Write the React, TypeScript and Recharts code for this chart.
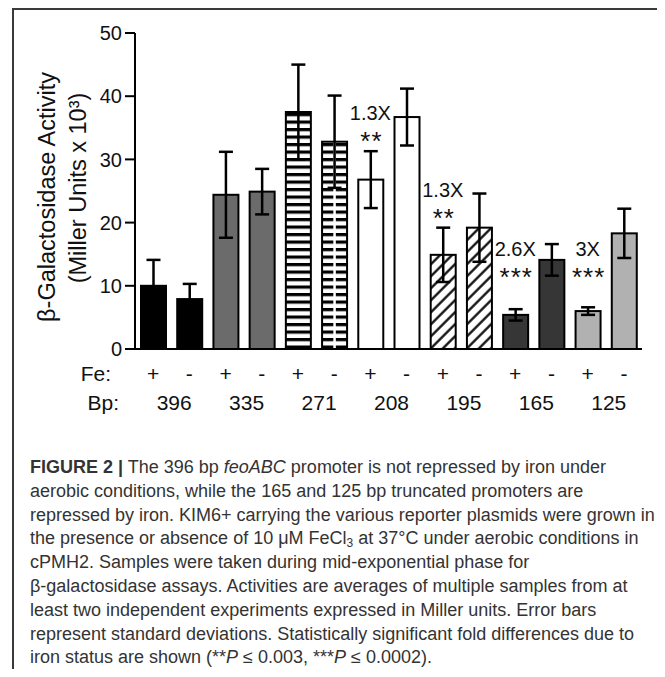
import React from 'react';
import { ComposedChart, Bar, Line, XAxis, YAxis, ErrorBar, LabelList } from 'recharts';

const ids = ['396+', '396-', '335+', '335-', '271+', '271-', '208+', '208-', '195+', '195-', '165+', '165-', '125+', '125-'];
const feSigns = ['+', '-', '+', '-', '+', '-', '+', '-', '+', '-', '+', '-', '+', '-'];
const bpLabels = ['396', '335', '271', '208', '195', '165', '125'];
const activity = [10.0, 7.9, 24.4, 24.9, 37.5, 32.8, 26.8, 36.7, 14.9, 19.2, 5.4, 14.1, 6.0, 18.3];
const activitySd = [4.1, 2.4, 6.8, 3.6, 7.5, 7.3, 4.5, 4.5, 4.3, 5.4, 0.9, 2.5, 0.6, 3.9];
const barStyles = ['black', 'black', 'gray', 'gray', 'stripe', 'brick', 'white', 'white', 'hatch', 'hatch', 'dark', 'dark', 'light', 'light'];
const foldLabels = ['', '', '', '', '', '', '1.3X', '', '1.3X', '', '2.6X', '', '3X', ''];
const starLabels = ['', '', '', '', '', '', '**', '', '**', '', '***', '', '***', ''];
const annotationLevel = [null, null, null, null, null, null, 37.3, null, 25.2, null, 15.8, null, 15.8, null];
const yTicks = [0, 10, 20, 30, 40, 50];

const data = ids.map((id, i) => ({
  id,
  fe: feSigns[i],
  value: activity[i],
  sd: activitySd[i],
  style: barStyles[i],
  fold: foldLabels[i],
  stars: starLabels[i],
  annot: annotationLevel[i],
}));

const FONT = '"Liberation Sans", Arial, Helvetica, sans-serif';
const CHART_W = 640;
const CHART_H = 430;
const MARGIN = { top: 25, right: 6, bottom: 19, left: 67 };
const Y_AXIS_W = 60;
const X_AXIS_H = 70;
const PLOT_W = CHART_W - MARGIN.left - MARGIN.right - Y_AXIS_W;
const BAND = PLOT_W / ids.length;

const fills: Record<string, string> = {
  black: '#000000',
  gray: '#6b6b6b',
  stripe: 'url(#hstripe)',
  brick: 'url(#hstripe)',
  white: '#ffffff',
  hatch: 'url(#hatch)',
  dark: '#363636',
  light: '#b1b1b1',
};

const BarShape = (props: any) => {
  const { x, y, width, height, payload } = props;
  if (width == null || height == null) return null;
  const style = payload?.style;
  return (
    <g>
      <rect x={x} y={y} width={width} height={height} fill={fills[style] || '#000'} />
      {style === 'brick' && (
        <line x1={x + width / 2} y1={y} x2={x + width / 2} y2={y + height} stroke="#fff" strokeWidth={2.5} />
      )}
      <rect x={x} y={y} width={width} height={height} fill="none" stroke="#000" strokeWidth={2} />
    </g>
  );
};

const XTick = (props: any) => {
  const { x, y, payload } = props;
  const i = payload?.index ?? 0;
  const fs = 21;
  return (
    <g fill="#111" fontSize={fs}>
      <text x={x} y={y + 24} textAnchor="middle" dominantBaseline="central">
        {feSigns[i]}
      </text>
      {i % 2 === 0 && (
        <text x={x + BAND / 2 + 3} y={y + 53} textAnchor="middle" dominantBaseline="central">
          {bpLabels[i / 2]}
        </text>
      )}
      {i === 0 && (
        <>
          <text x={x - 42} y={y + 24} textAnchor="end" dominantBaseline="central">
            Fe:
          </text>
          <text x={x - 34} y={y + 53} textAnchor="end" dominantBaseline="central">
            Bp:
          </text>
        </>
      )}
    </g>
  );
};

const YLabel = (props: any) => {
  const vb = props.viewBox || { x: 0, y: 0, width: 0, height: 0 };
  const cy = vb.y + vb.height / 2;
  const x1 = vb.x - 28;
  const x2 = vb.x + 3;
  const y1 = cy + 6;
  const y2 = cy - 3;
  return (
    <g fill="#111" fontSize={23.5}>
      <text x={x1} y={y1} textAnchor="middle" dominantBaseline="central" transform={`rotate(-90, ${x1}, ${y1})`}>
        β-Galactosidase Activity
      </text>
      <text x={x2} y={y2} textAnchor="middle" dominantBaseline="central" transform={`rotate(-90, ${x2}, ${y2})`}>
        (Miller Units x 10³)
      </text>
    </g>
  );
};

const FoldLabel = (props: any) => {
  const { x, y, value } = props;
  if (!value || y == null) return null;
  return (
    <text x={x} y={y} textAnchor="middle" dominantBaseline="central" fontSize={20} fill="#111">
      {value}
    </text>
  );
};

const StarLabel = (props: any) => {
  const { x, y, value } = props;
  if (!value || y == null) return null;
  return (
    <text x={x + 1} y={y + 37} textAnchor="middle" fontSize={26} letterSpacing={1} fill="#111">
      {value}
    </text>
  );
};

export default function App() {
  return (
    <div style={{ position: 'relative', width: 649, height: 661, fontFamily: FONT }}>
      <div style={{ position: 'absolute', left: 4, top: 0, width: 653, height: 2, background: '#3a3a3a' }} />
      <div style={{ position: 'absolute', left: 4, top: 0, width: 2, height: 669, background: '#3a3a3a' }} />
      <div style={{ position: 'absolute', left: 0, top: 0 }}>
        <ComposedChart width={CHART_W} height={CHART_H} data={data} margin={MARGIN}>
          <defs>
            <pattern id="hstripe" patternUnits="userSpaceOnUse" width={8} height={7.5}>
              <rect x={0} y={0} width={8} height={7.5} fill="#fff" />
              <rect x={0} y={0} width={8} height={3.2} fill="#000" />
            </pattern>
            <pattern id="hatch" patternUnits="userSpaceOnUse" width={8.5} height={8.5} patternTransform="rotate(45)">
              <rect x={0} y={0} width={8.5} height={8.5} fill="#fff" />
              <line x1={4.25} y1={-1} x2={4.25} y2={9.5} stroke="#000" strokeWidth={2.2} />
            </pattern>
          </defs>
          <XAxis
            dataKey="id"
            height={X_AXIS_H}
            tickLine={false}
            tickSize={0}
            tickMargin={0}
            axisLine={{ stroke: '#000', strokeWidth: 2 }}
            tick={<XTick />}
            interval={0}
          />
          <YAxis
            width={Y_AXIS_W}
            domain={[0, 50]}
            ticks={yTicks}
            interval={0}
            tickSize={10}
            tickMargin={3}
            axisLine={{ stroke: '#000', strokeWidth: 2 }}
            tickLine={{ stroke: '#000', strokeWidth: 2 }}
            tick={{ fontSize: 20, fill: '#111' }}
            label={<YLabel />}
          />
          <Bar dataKey="value" barSize={25} shape={<BarShape />} isAnimationActive={false}>
            <ErrorBar dataKey="sd" width={7} stroke="#000" strokeWidth={2.5} direction="y" isAnimationActive={false} />
          </Bar>
          <Line
            dataKey="annot"
            stroke="none"
            dot={false}
            activeDot={false}
            legendType="none"
            isAnimationActive={false}
          >
            <LabelList dataKey="fold" content={<FoldLabel />} />
            <LabelList dataKey="stars" content={<StarLabel />} />
          </Line>
        </ComposedChart>
      </div>
      <div
        style={{
          position: 'absolute',
          left: 22,
          top: 448,
          fontSize: 18,
          lineHeight: '23.8px',
          color: '#333',
          whiteSpace: 'nowrap',
        }}
      >
        <b>FIGURE 2 |</b> The 396 bp <i>feoABC</i> promoter is not repressed by iron under
        <br />
        aerobic conditions, while the 165 and 125 bp truncated promoters are
        <br />
        repressed by iron. KIM6+ carrying the various reporter plasmids were grown in
        <br />
        the presence or absence of 10 μM FeCl<sub style={{ fontSize: 12, lineHeight: 0, verticalAlign: '-3px' }}>3</sub> at 37°C under aerobic conditions in
        <br />
        cPMH2. Samples were taken during mid-exponential phase for
        <br />
        β-galactosidase assays. Activities are averages of multiple samples from at
        <br />
        least two independent experiments expressed in Miller units. Error bars
        <br />
        represent standard deviations. Statistically significant fold differences due to
        <br />
        iron status are shown (**<i>P</i> ≤ 0.003, ***<i>P</i> ≤ 0.0002).
      </div>
    </div>
  );
}
